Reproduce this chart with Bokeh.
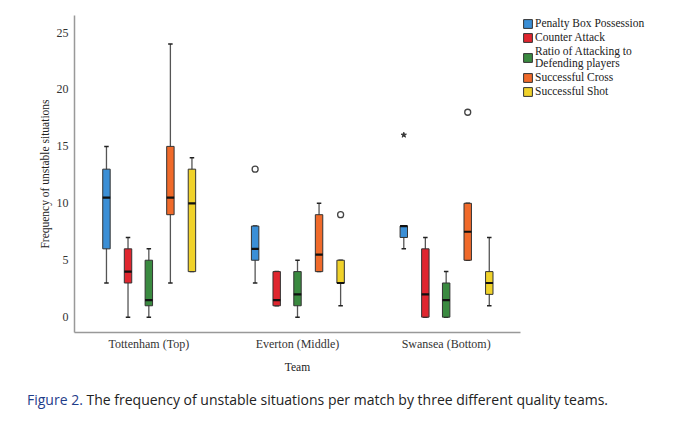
from bokeh.plotting import figure
from bokeh.models import ColumnDataSource, Legend, LegendItem, Div, FactorRange
from bokeh.transform import dodge
from bokeh.layouts import column
from bokeh.embed import file_html
from bokeh.resources import INLINE

teams = ["Tottenham (Top)", "Everton (Middle)", "Swansea (Bottom)"]
metrics = ["Penalty Box Possession", "Counter Attack",
           "Ratio of Attacking to\nDefending players", "Successful Cross", "Successful Shot"]
colors = ["#3b8fd6", "#e0262f", "#3a8a40", "#f06a2a", "#f0d22a"]
offsets = [-0.285, -0.14, 0.0, 0.145, 0.29]

# per metric: [Tottenham, Everton, Swansea]
penalty_lo = [3, 3, 6];   penalty_q1 = [6, 5, 7];   penalty_med = [10.5, 6, 8];   penalty_q3 = [13, 8, 8];  penalty_hi = [15, 8, 8]
counter_lo = [0, 1, 0];   counter_q1 = [3, 1, 0];   counter_med = [4, 1.5, 2];    counter_q3 = [6, 4, 6];   counter_hi = [7, 4, 7]
ratio_lo = [0, 0, 0];     ratio_q1 = [1, 1, 0];     ratio_med = [1.5, 2, 1.5];    ratio_q3 = [5, 4, 3];     ratio_hi = [6, 5, 4]
cross_lo = [3, 4, 5];     cross_q1 = [9, 4, 5];     cross_med = [10.5, 5.5, 7.5]; cross_q3 = [15, 9, 10];   cross_hi = [24, 10, 10]
shot_lo = [4, 1, 1];      shot_q1 = [4, 3, 2];      shot_med = [10, 3, 3];        shot_q3 = [13, 5, 4];     shot_hi = [14, 5, 7]

stats = [
    (penalty_lo, penalty_q1, penalty_med, penalty_q3, penalty_hi),
    (counter_lo, counter_q1, counter_med, counter_q3, counter_hi),
    (ratio_lo, ratio_q1, ratio_med, ratio_q3, ratio_hi),
    (cross_lo, cross_q1, cross_med, cross_q3, cross_hi),
    (shot_lo, shot_q1, shot_med, shot_q3, shot_hi),
]

# outliers: circles and extreme (star)
circle_team = ["Everton (Middle)", "Everton (Middle)", "Swansea (Bottom)"]
circle_metric = [0, 4, 3]
circle_value = [13, 9, 18]
star_team = ["Swansea (Bottom)"]
star_metric = [0]
star_value = [16]

SERIF = "Liberation Serif"

p = figure(x_range=FactorRange(*teams, range_padding=0), y_range=(-1.35, 26.5),
           frame_width=446, frame_height=317, width=670,
           min_border_left=74, min_border_top=15, min_border_right=150, min_border_bottom=50,
           output_backend="svg", toolbar_location=None)
p.outline_line_color = None
p.grid.visible = False
p.background_fill_color = "white"

legend_items = []
for i, (lo, q1, med, q3, hi) in enumerate(stats):
    src = ColumnDataSource(dict(team=teams, lo=lo, q1=q1, med=med, q3=q3, hi=hi))
    xd = dodge("team", offsets[i], range=p.x_range)
    p.segment(x0=xd, x1=xd, y0="lo", y1="hi", source=src, line_color="#555555", line_width=1.3)
    p.scatter(x=xd, y="lo", source=src, marker="dash", size=4.5, line_color="#222222", line_width=1.5)
    p.scatter(x=xd, y="hi", source=src, marker="dash", size=4.5, line_color="#222222", line_width=1.5)
    r = p.vbar(x=xd, top="q3", bottom="q1", width=0.05, source=src,
               fill_color=colors[i], line_color="#333333", line_width=1)
    p.scatter(x=xd, y="med", source=src, marker="dash", size=7.5, line_color="#111111", line_width=2.2)
    legend_items.append(LegendItem(label=metrics[i], renderers=[r]))

for m in sorted(set(circle_metric)):
    idx = [k for k, mm in enumerate(circle_metric) if mm == m]
    s = ColumnDataSource(dict(team=[circle_team[k] for k in idx], v=[circle_value[k] for k in idx]))
    p.scatter(x=dodge("team", offsets[m], range=p.x_range), y="v", source=s, marker="circle",
              size=6, fill_color="white", line_color="#444444", line_width=1.3)
for m in sorted(set(star_metric)):
    idx = [k for k, mm in enumerate(star_metric) if mm == m]
    s = ColumnDataSource(dict(team=[star_team[k] for k in idx], v=[star_value[k] for k in idx]))
    p.scatter(x=dodge("team", offsets[m], range=p.x_range), y="v", source=s, marker="star",
              size=5.5, fill_color="#333333", line_color="#333333")

legend = Legend(items=legend_items, location="top_left", margin=0, padding=2,
                glyph_width=11, glyph_height=11, spacing=2, label_height=11,
                label_text_font=SERIF, label_text_font_size="11.5px", label_text_color="#222222",
                label_standoff=2, border_line_alpha=0, background_fill_alpha=0)
p.add_layout(legend, "right")

for ax in (p.xaxis, p.yaxis):
    ax.axis_line_color = "#999999"
    ax.axis_line_width = 1.5
    ax.major_tick_out = 0
    ax.major_tick_in = 0
    ax.minor_tick_out = 0
    ax.minor_tick_in = 0
    ax.major_label_text_font = SERIF
    ax.major_label_text_font_size = "12px"
    ax.major_label_text_color = "#333333"
    ax.axis_label_text_font = SERIF
    ax.axis_label_text_font_size = "11.5px"
    ax.axis_label_text_font_style = "normal"
    ax.axis_label_text_color = "#222222"

p.yaxis.ticker = [0, 5, 10, 15, 20, 25]
p.yaxis.axis_label = "Frequency of unstable situations"
p.yaxis.major_label_standoff = 6
p.yaxis.axis_label_standoff = 3
p.xaxis.axis_label = "Team"
p.xaxis.major_label_standoff = 4
p.xaxis.axis_label_standoff = 7

caption = Div(text='<span style="color:#1f3d8a">Figure 2.</span> The frequency of unstable situations per match by three different quality teams.',
              styles={"font-family": "Open Sans", "font-size": "14px", "color": "#222222", "white-space": "nowrap"},
              margin=(8, 0, 0, 27))

layout = column(p, caption)
open("out.html", "w").write(file_html(layout, INLINE))
